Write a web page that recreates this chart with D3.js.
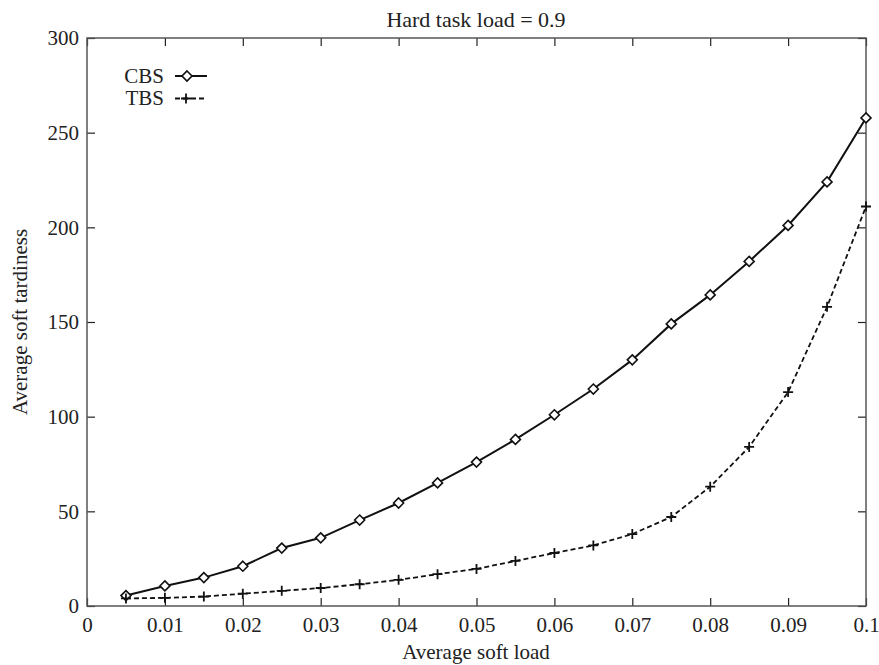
<!DOCTYPE html>
<html>
<head>
<meta charset="utf-8">
<script src="https://cdn.jsdelivr.net/npm/d3@7"></script>
<style>
body { margin: 0; background: #fff; }
text { font-family: "Liberation Serif", "Times New Roman", serif; fill: #222; }
</style>
</head>
<body>
<div id="chart"></div>
<script>
// data
var softLoad = [0.005, 0.01, 0.015, 0.02, 0.025, 0.03, 0.035, 0.04, 0.045, 0.05,
                0.055, 0.06, 0.065, 0.07, 0.075, 0.08, 0.085, 0.09, 0.095, 0.1];
var cbs = [5.5, 10.6, 15, 21, 30.6, 36, 45.4, 54.4, 65, 76,
           88, 101, 114.6, 130, 149, 164.3, 182, 201, 224, 257.8];
var tbs = [4, 4.3, 5, 6.5, 8, 9.5, 11.5, 13.8, 16.8, 19.6,
           23.8, 28, 32, 38, 47, 63, 84, 113, 158, 211];
var xTicks = [0, 0.01, 0.02, 0.03, 0.04, 0.05, 0.06, 0.07, 0.08, 0.09, 0.1];
var yTicks = [0, 50, 100, 150, 200, 250, 300];

var width = 879, height = 665;
var plotL = 87, plotR = 866, plotT = 38, plotB = 606;

var svg = d3.select('#chart').append('svg')
    .attr('width', width)
    .attr('height', height)

var x = d3.scaleLinear().domain([0, 0.1]).range([plotL, plotR]);
var y = d3.scaleLinear().domain([0, 300]).range([plotB, plotT]);

var tick = 8;

// axes: labels outside, ticks pointing in
var xAxis = svg.append('g')
    .attr('transform', 'translate(0,' + plotB + ')')
    .call(d3.axisBottom(x).tickValues(xTicks).tickSizeInner(-tick).tickSizeOuter(0).tickPadding(11)
        .tickFormat(function(d) { return d === 0 ? '0' : d3.format('~g')(d); }));
xAxis.select('.domain').remove();
xAxis.selectAll('text').style('font-size', '21px').attr('dy', '0.71em');

var yAxis = svg.append('g')
    .attr('transform', 'translate(' + plotL + ',0)')
    .call(d3.axisLeft(y).tickValues(yTicks).tickSizeInner(-tick).tickSizeOuter(0).tickPadding(8));
yAxis.select('.domain').remove();
yAxis.selectAll('text').style('font-size', '21px');

// mirror ticks on top and right
svg.append('g')
    .attr('transform', 'translate(0,' + plotT + ')')
    .call(d3.axisTop(x).tickValues(xTicks).tickSizeInner(-tick).tickSizeOuter(0).tickFormat(''))
    .select('.domain').remove();
svg.append('g')
    .attr('transform', 'translate(' + plotR + ',0)')
    .call(d3.axisRight(y).tickValues(yTicks).tickSizeInner(-tick).tickSizeOuter(0).tickFormat(''))
    .select('.domain').remove();

svg.selectAll('.tick line').attr('stroke', '#222').attr('stroke-width', 1.2);

// frame
svg.append('rect')
    .attr('x', plotL).attr('y', plotT)
    .attr('width', plotR - plotL).attr('height', plotB - plotT)
    .attr('fill', 'none')
    .attr('stroke', '#555')
    .attr('stroke-width', 1.5)

// lines
var line = function(vals) {
    return d3.line()
        .x(function(d, i) { return x(softLoad[i]); })
        .y(function(d) { return y(d); })(vals);
}

svg.append('path')
    .attr('d', line(cbs))
    .attr('fill', 'none')
    .attr('stroke', '#111')
    .attr('stroke-width', 2)

svg.append('path')
    .attr('d', line(tbs))
    .attr('fill', 'none')
    .attr('stroke', '#111')
    .attr('stroke-width', 1.8)
    .attr('stroke-dasharray', '5,3')

var diamond = function(g, cx, cy) {
    g.append('path')
        .attr('d', 'M' + cx + ',' + (cy - 5) + 'L' + (cx + 5) + ',' + cy + 'L' + cx + ',' + (cy + 5) + 'L' + (cx - 5) + ',' + cy + 'Z')
        .attr('fill', '#fff')
        .attr('stroke', '#111')
        .attr('stroke-width', 1.6)
}
var plus = function(g, cx, cy) {
    g.append('path')
        .attr('d', 'M' + (cx - 5) + ',' + cy + 'H' + (cx + 5) + 'M' + cx + ',' + (cy - 5) + 'V' + (cy + 5))
        .attr('stroke', '#111')
        .attr('stroke-width', 1.8)
}

var marks = svg.append('g');
cbs.forEach(function(d, i) { diamond(marks, x(softLoad[i]), y(d)); });
tbs.forEach(function(d, i) { plus(marks, x(softLoad[i]), y(d)); });

// legend
var leg = svg.append('g');
leg.append('text').attr('x', 164).attr('y', 83).attr('text-anchor', 'end')
    .style('font-size', '21px').text('CBS');
leg.append('line').attr('x1', 175).attr('x2', 207).attr('y1', 76).attr('y2', 76)
    .attr('stroke', '#111').attr('stroke-width', 2);
diamond(leg, 187, 76);
leg.append('text').attr('x', 164).attr('y', 105).attr('text-anchor', 'end')
    .style('font-size', '21px').text('TBS');
leg.append('line').attr('x1', 175).attr('x2', 207).attr('y1', 98.5).attr('y2', 98.5)
    .attr('stroke', '#111').attr('stroke-width', 1.8).attr('stroke-dasharray', '5,3');
plus(leg, 186, 98.5);

// titles
svg.append('text')
    .attr('x', 476).attr('y', 27)
    .attr('text-anchor', 'middle')
    .style('font-size', '22px')
    .text('Hard task load = 0.9')

svg.append('text')
    .attr('x', 476).attr('y', 659)
    .attr('text-anchor', 'middle')
    .style('font-size', '21px')
    .text('Average soft load')

svg.append('text')
    .attr('transform', 'translate(27,' + 322 + ') rotate(-90)')
    .attr('text-anchor', 'middle')
    .style('font-size', '21px')
    .text('Average soft tardiness')
</script>
</body>
</html>
